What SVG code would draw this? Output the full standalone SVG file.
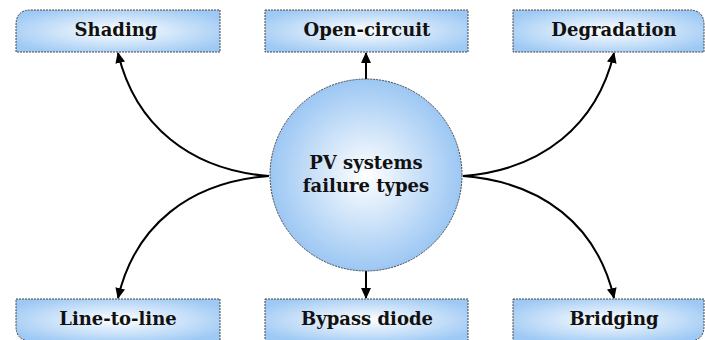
<svg xmlns="http://www.w3.org/2000/svg" width="705" height="340" viewBox="0 0 705 340">
<defs>
<radialGradient id="g" cx="50%" cy="50%" r="60%">
<stop offset="0" stop-color="#ffffff"/>
<stop offset="1" stop-color="#9ec9f4"/>
</radialGradient>
<radialGradient id="gc" cx="50%" cy="50%" r="50%">
<stop offset="0" stop-color="#ffffff"/>
<stop offset="1" stop-color="#9cc7f3"/>
</radialGradient>
<marker id="ah" viewBox="0 0 10 10" refX="9" refY="5" markerWidth="11" markerHeight="11" markerUnits="userSpaceOnUse" orient="auto">
<path d="M0,0.5 L10,5 L0,9.5 z" fill="#000"/>
</marker>
<style>
.box{fill:url(#g);stroke:#444;stroke-width:1;stroke-dasharray:2,1}
.lbl{font-family:"DejaVu Serif","Liberation Serif",serif;font-weight:bold;font-size:18px;fill:#111;text-anchor:middle}
.con{fill:none;stroke:#000;stroke-width:2;marker-end:url(#ah)}
</style>
</defs>
<g id="connectors">
<path class="con" d="M269,176 C190,170 135,125 118,53"/>
<path class="con" d="M269,176 C190,182 135,225 118,298"/>
<path class="con" d="M463,176 C542,170 597,125 614,53"/>
<path class="con" d="M463,176 C542,182 597,225 614,298"/>
<path class="con" d="M366,79 L366,53"/>
<path class="con" d="M366,271 L366,298"/>
</g>
<g id="shading">
<path class="box" d="M31,10 L220,10 L220,52 L16,52 L16,25 Q16,10 31,10 Z"/>
<text class="lbl" x="116" y="36">Shading</text>
</g>
<g id="open-circuit">
<rect class="box" x="265" y="10" width="203" height="42"/>
<text class="lbl" x="367" y="36">Open-circuit</text>
</g>
<g id="degradation">
<path class="box" d="M513,10 L689,10 Q704,10 704,25 L704,52 L513,52 Z"/>
<text class="lbl" x="614" y="36">Degradation</text>
</g>
<g id="line-to-line">
<path class="box" d="M16,299 L220,299 L220,341 L31,341 Q16,341 16,326 Z"/>
<text class="lbl" x="118" y="325">Line-to-line</text>
</g>
<g id="bypass-diode">
<rect class="box" x="265" y="299" width="203" height="42"/>
<text class="lbl" x="367" y="325">Bypass diode</text>
</g>
<g id="bridging">
<path class="box" d="M513,299 L704,299 L704,326 Q704,341 689,341 L513,341 Z"/>
<text class="lbl" x="614" y="325">Bridging</text>
</g>
<g id="center">
<circle class="box" style="fill:url(#gc)" cx="366" cy="175" r="96"/>
<text class="lbl" x="366" y="169">PV systems</text>
<text class="lbl" x="366" y="192">failure types</text>
</g>
</svg>
